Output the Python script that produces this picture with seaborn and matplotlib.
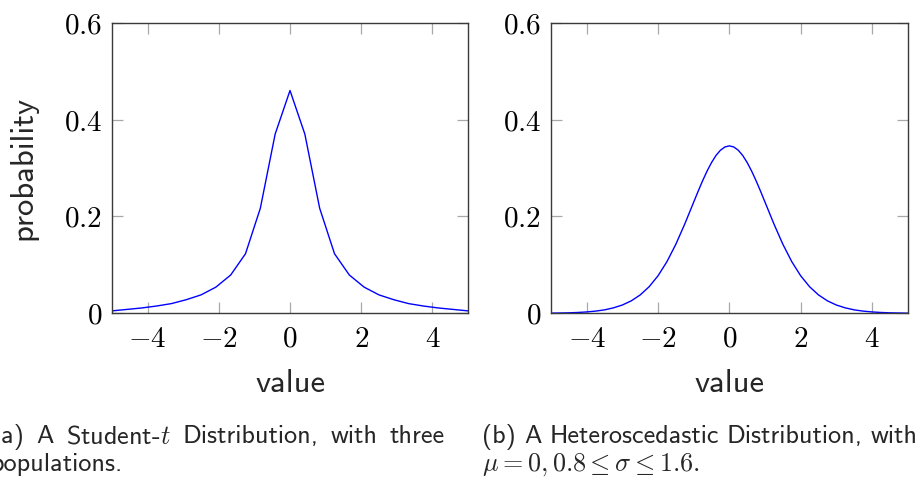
import os
import matplotlib
matplotlib.use("Agg")
import matplotlib.pyplot as plt
from matplotlib import font_manager
import seaborn as sns
import pandas as pd

# ---------------- data ----------------
t_x = [-5.0, -4.583, -4.167, -3.75, -3.333, -2.917, -2.5, -2.083, -1.667, -1.25,
       -0.833, -0.417, 0.0, 0.417, 0.833, 1.25, 1.667, 2.083, 2.5, 2.917,
       3.333, 3.75, 4.167, 4.583, 5.0]
t_y = [0.005, 0.008, 0.011, 0.015, 0.020, 0.028, 0.038, 0.054, 0.079, 0.123,
       0.217, 0.370, 0.460, 0.370, 0.217, 0.123, 0.079, 0.054, 0.038, 0.028,
       0.020, 0.015, 0.011, 0.008, 0.005]

h_x = [-5.0, -4.75, -4.5, -4.25, -4.0, -3.75, -3.5, -3.25, -3.0, -2.75,
       -2.5, -2.25, -2.0, -1.75, -1.5, -1.25, -1.0, -0.875, -0.75, -0.625,
       -0.5, -0.375, -0.25, -0.125, 0.0, 0.125, 0.25, 0.375, 0.5, 0.625,
       0.75, 0.875, 1.0, 1.25, 1.5, 1.75, 2.0, 2.25, 2.5, 2.75,
       3.0, 3.25, 3.5, 3.75, 4.0, 4.25, 4.5, 4.75, 5.0]
h_y = [0.0003, 0.0006, 0.0010, 0.0017, 0.0028, 0.0045, 0.0071, 0.0112, 0.0171, 0.0257,
       0.0379, 0.0548, 0.0774, 0.1066, 0.1426, 0.1844, 0.2295, 0.2520, 0.2736, 0.2936,
       0.3112, 0.3258, 0.3367, 0.3434, 0.3457, 0.3434, 0.3367, 0.3258, 0.3112, 0.2936,
       0.2736, 0.2520, 0.2295, 0.1844, 0.1426, 0.1066, 0.0774, 0.0548, 0.0379, 0.0257,
       0.0171, 0.0112, 0.0071, 0.0045, 0.0028, 0.0017, 0.0010, 0.0006, 0.0003]

x_ticks = [-4, -2, 0, 2, 4]
x_tick_labels = ["$-4$", "$-2$", "$0$", "$2$", "$4$"]
y_ticks = [0, 0.2, 0.4, 0.6]
y_tick_labels = ["$0$", "$0.2$", "$0.4$", "$0.6$"]

x_label = "value"
y_label = "probability"
caption_a = ["(a) A Student-$t$ Distribution, with three", "populations."]
caption_b = ["(b) A Heteroscedastic Distribution, with", r"$\mu = 0, 0.8 \leq \sigma \leq 1.6.$"]

# ---------------- style ----------------
sns.set_theme(style="white")
ttf_dir = os.path.join(matplotlib.get_data_path(), "fonts", "ttf")
for f in ["cmss10.ttf", "cmr10.ttf"]:
    p = os.path.join(ttf_dir, f)
    if os.path.exists(p):
        font_manager.fontManager.addfont(p)
plt.rcParams["font.family"] = ["cmss10", "DejaVu Sans"]
plt.rcParams["mathtext.fontset"] = "cm"
plt.rcParams["axes.unicode_minus"] = True

W, H = 920, 482
fig = plt.figure(figsize=(W / 100, H / 100), dpi=100)


def px_axes(l, t, r, b):
    return fig.add_axes([l / W, 1 - b / H, (r - l) / W, (b - t) / H])


ax1 = px_axes(112, 22.7, 468, 313.3)
ax2 = px_axes(551, 22.7, 907.7, 313.3)

df_t = pd.DataFrame({"value": t_x, "probability": t_y})
df_h = pd.DataFrame({"value": h_x, "probability": h_y})

sns.lineplot(data=df_t, x="value", y="probability", ax=ax1, color="#0000ff", linewidth=1.0)
sns.lineplot(data=df_h, x="value", y="probability", ax=ax2, color="#0000ff", linewidth=1.0)

for ax in (ax1, ax2):
    ax.set_xlim(-5, 5)
    ax.set_ylim(0, 0.6)
    ax.set_xticks(x_ticks)
    ax.set_xticklabels(x_tick_labels)
    ax.set_yticks(y_ticks)
    ax.set_yticklabels(y_tick_labels)
    ax.tick_params(axis="both", which="major", direction="in", length=8, width=0.9,
                   color="#a8a8a8", labelsize=21, top=True, right=True,
                   bottom=True, left=True, labelcolor="black")
    ax.tick_params(axis="x", pad=9)
    ax.tick_params(axis="y", pad=7)
    for s in ax.spines.values():
        s.set_visible(True)
        s.set_color("#3a3a3a")
        s.set_linewidth(1.0)
    ax.set_xlabel(x_label, fontsize=23.5, labelpad=11.5)
    ax.set_ylabel("")
    ax.grid(False)

ax1.set_ylabel(y_label, fontsize=23.5, labelpad=19)

cap_fs = 18.8
renderer = fig.canvas.get_renderer()


def justified(text, x0, x1, y):
    words = text.split(" ")
    arts = [fig.text(0, 1 - y / H, w, fontsize=cap_fs, va="baseline", ha="left") for w in words]
    widths = [a.get_window_extent(renderer=renderer).width for a in arts]
    gap = (x1 - x0 - sum(widths)) / (len(words) - 1)
    x = x0
    for a, w in zip(arts, widths):
        a.set_x(x / W)
        x += w + gap


justified(caption_a[0], -9, 445, 443)
fig.text(-9 / W, 1 - 471 / H, caption_a[1], fontsize=cap_fs, va="baseline", ha="left")
justified(caption_b[0], 482, 918, 443)
fig.text(482 / W, 1 - 471 / H, caption_b[1], fontsize=cap_fs, va="baseline", ha="left")

fig.savefig("out.png", dpi=100)
